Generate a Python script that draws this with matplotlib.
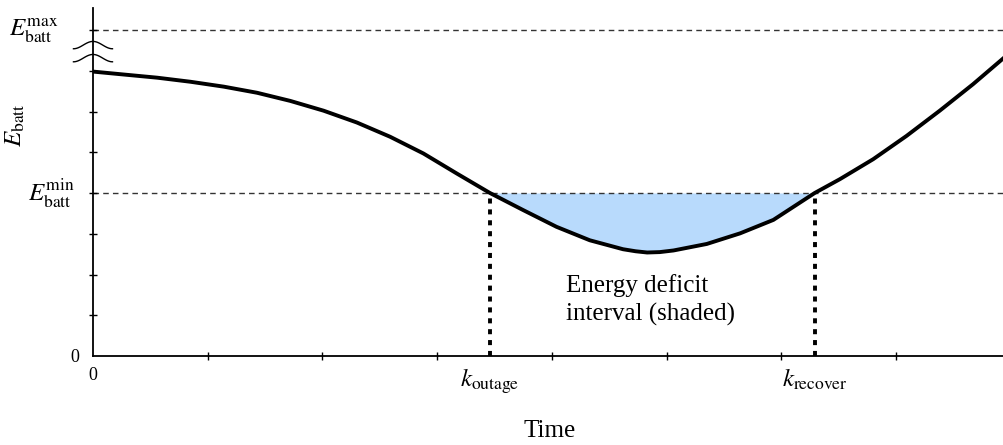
"""Battery energy trajectory through an outage, with the deficit interval shaded."""

import matplotlib
matplotlib.use("Agg")
import matplotlib.pyplot as plt
import matplotlib.transforms as mtransforms
import numpy as np

plt.rcParams["font.family"] = ["Liberation Serif", "DejaVu Serif"]
plt.rcParams["mathtext.fontset"] = "stix"

# Stored energy over time (arbitrary units, tick spacing = 1)
time = [0.00, 0.26, 0.56, 0.85, 1.14, 1.43, 1.72, 2.01, 2.30, 2.59,
        2.88, 3.17, 3.46, 3.75, 4.04, 4.33, 4.62, 4.73, 4.83, 4.94,
        5.06, 5.35, 5.64, 5.93, 6.29, 6.51, 6.80, 7.09, 7.38, 7.67, 7.94]
energy = [6.98, 6.91, 6.83, 6.73, 6.61, 6.46, 6.26, 6.02, 5.73, 5.38,
          4.97, 4.48, 4.00, 3.58, 3.17, 2.84, 2.62, 2.57, 2.54, 2.55,
          2.59, 2.75, 3.01, 3.34, 4.00, 4.34, 4.83, 5.40, 6.02, 6.67, 7.32]

E_MIN = 4.0
E_MAX = 8.0
K_OUTAGE = 3.46
K_RECOVER = 6.29
X_TICKS = list(range(8))
Y_TICKS = list(range(9))

t = np.array(time)
e = np.array(energy)

fig = plt.figure(figsize=(10.04, 4.45), dpi=100)
ax = fig.add_axes([0.0926, 0.2, 0.9074, 0.782])
ax.set_xlim(0, 7.94)
ax.set_ylim(0, 8.54)

for side in ("top", "right"):
    ax.spines[side].set_visible(False)
for side in ("left", "bottom"):
    ax.spines[side].set_linewidth(1.3)

# reference levels
ax.axhline(E_MIN, color="#333333", lw=1.0, ls=(0, (4, 3)), zorder=1)
ax.axhline(E_MAX, color="#333333", lw=1.0, ls=(0, (4, 3)), zorder=1)

# deficit area below E_min
mask = (t >= K_OUTAGE) & (t <= K_RECOVER)
ax.fill_between(t, e, E_MIN, where=mask, color="#b8dafc", lw=0, zorder=0)

ax.plot(t, e, color="black", lw=2.8, solid_joinstyle="round", zorder=3)

for k in (K_OUTAGE, K_RECOVER):
    ax.plot([k, k], [0, E_MIN], color="black", lw=2.8,
            ls=(0, (1.3, 1.5)), zorder=2, clip_on=False)

# axis-break marks between the top of the scale and the curve
s = np.linspace(-0.17, 0.17, 60)
wave = 0.09 * np.sin(2 * np.pi * (s + 0.17) / 0.34 + np.pi / 2)
for y0 in (7.63, 7.31):
    ax.plot(s, y0 - wave, color="black", lw=1.0, clip_on=False, zorder=4)

# ticks
ax.set_xticks(X_TICKS, minor=True)
ax.set_yticks(Y_TICKS, minor=True)
ax.tick_params(which="minor", direction="inout", length=6, width=1.0)
ax.set_xticks([0, K_OUTAGE, K_RECOVER])
ax.set_xticklabels(["0", r"$k_{\mathrm{outage}}$", r"$k_{\mathrm{recover}}$"])
ax.set_yticks([0])
ax.set_yticklabels(["0"])
ax.tick_params(which="major", length=0, labelsize=13)
ax.tick_params(axis="x", which="major", pad=8)
ax.tick_params(axis="y", which="major", pad=10)
for lab in ax.get_xticklabels()[1:]:
    lab.set_fontsize(18)

ytrans = mtransforms.blended_transform_factory(fig.transFigure, ax.transData)
fig.text(0.075, E_MIN, r"$E_{\mathrm{batt}}^{\mathrm{min}}$", transform=ytrans,
         ha="right", va="center", fontsize=18)
fig.text(0.058, E_MAX, r"$E_{\mathrm{batt}}^{\mathrm{max}}$", transform=ytrans,
         ha="right", va="center", fontsize=18)

ax.set_ylabel(r"$E_{\mathrm{batt}}$", fontsize=18)
ax.yaxis.set_label_coords(-0.072, 0.664)
ax.set_xlabel("Time", fontsize=18)
ax.xaxis.set_label_coords(0.501, -0.184)

ax.text(4.12, 1.37, "Energy deficit\ninterval (shaded)", fontsize=18,
        ha="left", va="center", linespacing=1.35)

fig.savefig("out.png", dpi=100)
